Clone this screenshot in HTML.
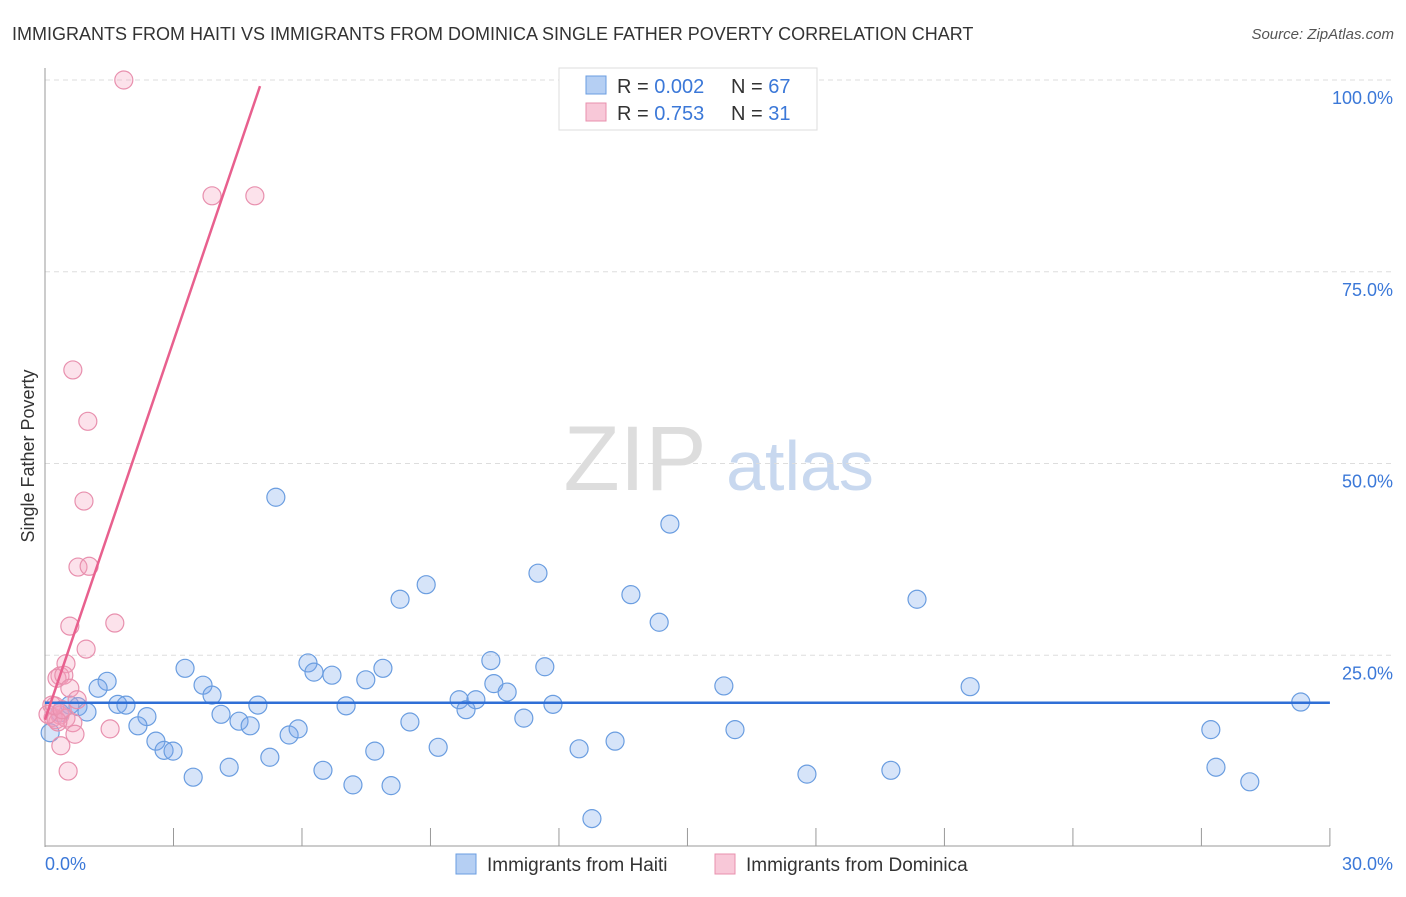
<!DOCTYPE html>
<html><head><meta charset="utf-8"><style>
body{margin:0;background:#fff;font-family:"Liberation Sans",sans-serif;}
svg text{font-family:"Liberation Sans",sans-serif;}
</style></head><body>
<svg id="chart" width="1406" height="892">
<text x="12" y="40" font-size="18" fill="#333">IMMIGRANTS FROM HAITI VS IMMIGRANTS FROM DOMINICA SINGLE FATHER POVERTY CORRELATION CHART</text>
<text x="1394" y="39" font-size="15" fill="#555" font-style="italic" text-anchor="end">Source: ZipAtlas.com</text>
<text x="34" y="456" font-size="18" fill="#333" transform="rotate(-90 34 456)" text-anchor="middle">Single Father Poverty</text>
<g><text x="635" y="490" font-size="92" fill="#ddd" font-family="Liberation Serif" text-anchor="middle">ZIP</text><text x="800" y="490" font-size="70" fill="#c8d8ef" text-anchor="middle">atlas</text></g>
<g id="grid"></g><g id="axes"></g><g id="marks"></g>
<g>
<rect x="559" y="68" width="258" height="62" fill="#fff" stroke="#ddd"/>
<rect x="586" y="76" width="20" height="18" fill="#b5cff3" stroke="#6a9de0"/>
<rect x="586" y="103" width="20" height="18" fill="#f8c8d8" stroke="#e890ae"/>
<text x="617" y="93" font-size="20" fill="#333">R = <tspan fill="#3b78d8">0.002</tspan></text><text x="731" y="93" font-size="20" fill="#333">N = <tspan fill="#3b78d8">67</tspan></text>
<text x="617" y="120" font-size="20" fill="#333">R = <tspan fill="#3b78d8"> 0.753</tspan></text><text x="731" y="120" font-size="20" fill="#333">N = <tspan fill="#3b78d8"> 31</tspan></text>
</g>
<g>
<rect x="456" y="854" width="20" height="20" fill="#b5cff3" stroke="#6a9de0"/>
<text x="487" y="871" font-size="19" fill="#333">Immigrants from Haiti</text>
<rect x="715" y="854" width="20" height="20" fill="#f8c8d8" stroke="#e890ae"/>
<text x="746" y="871" font-size="19" fill="#333">Immigrants from Dominica</text>
</g>
</svg>
<script>
const haitiX=[1.45,1.24,0.58,0.77,0.98,1.70,1.89,2.38,2.17,2.59,2.78,2.99,3.27,3.69,3.90,4.11,4.30,3.46,4.53,4.79,4.97,5.25,5.39,5.70,5.91,6.14,6.28,6.70,7.03,6.49,7.19,7.49,7.70,7.89,8.08,8.29,8.52,8.90,9.18,9.67,9.83,10.06,10.41,10.48,10.79,11.18,11.51,11.67,11.86,12.47,12.77,13.31,13.68,14.34,14.59,15.85,16.11,17.79,19.75,20.36,21.60,27.22,27.34,28.13,29.32,0.12,0.35];
const haitiY=[21.6,20.7,18.5,18.3,17.6,18.6,18.5,17.0,15.8,13.8,12.6,12.5,23.3,21.1,19.8,17.3,10.4,9.1,16.4,15.8,18.5,11.7,45.6,14.6,15.4,24.0,22.8,22.4,18.4,10.0,8.1,21.8,12.5,23.3,8.0,32.3,16.3,34.2,13.0,19.2,17.9,19.2,24.3,21.3,20.2,16.8,35.7,23.5,18.6,12.8,3.7,13.8,32.9,29.3,42.1,21.0,15.3,9.5,10.0,32.3,20.9,15.3,10.4,8.5,18.9,14.9,17.5];
const domX=[1.84,3.90,4.90,0.65,1.00,0.91,0.77,1.03,0.58,1.63,0.96,0.49,0.35,0.28,0.44,0.58,0.75,0.35,0.19,0.26,0.49,0.65,0.30,1.52,0.70,0.37,0.54,0.16,0.07,0.23,0.40];
const domY=[100,84.9,84.9,62.2,55.5,45.1,36.5,36.6,28.8,29.2,25.8,23.9,22.3,22.0,22.4,20.7,19.2,17.2,16.9,16.6,16.8,16.2,16.3,15.4,14.7,13.2,9.9,18.5,17.3,18.4,17.9];
const haitiTrend=[0,18.8,30,18.8];
const domTrend=[0,16.6,5.02,99.2];
const yTicks=[25,50,75,100];
const yTickLabels=["25.0%","50.0%","75.0%","100.0%"];
const xTicks=[3,6,9,12,15,18,21,24,27,30];
const NS="http://www.w3.org/2000/svg";
const sx=v=>45+v*42.83, sy=v=>847-v*7.67;
function mk(p,t,a){const e=document.createElementNS(NS,t);for(const k in a)e.setAttribute(k,a[k]);document.getElementById(p).appendChild(e);return e;}
yTicks.forEach((t,i)=>{
 const l=mk('grid','line',{x1:45,x2:1395,y1:sy(t),y2:sy(t),stroke:'#ddd','stroke-dasharray':'5,4'});
 
 
 const tx=mk('axes','text',{x:1393,y:sy(t)+24,'font-size':18,fill:'#3b78d8','text-anchor':'end'});
 tx.textContent=yTickLabels[i];
 
 
});
const ya=mk('axes','line',{x1:45,x2:45,y1:68,y2:847,stroke:'#999'});


const xa=mk('axes','line',{x1:45,x2:1330,y1:846,y2:846,stroke:'#999'});


xTicks.forEach(t=>{
 const l=mk('axes','line',{x1:sx(t),x2:sx(t),y1:828,y2:846,stroke:'#999'});
 
 
});
const x0=mk('axes','text',{x:45,y:870,'font-size':18,fill:'#3b78d8'});x0.textContent='0.0%';


const x1=mk('axes','text',{x:1393,y:870,'font-size':18,fill:'#3b78d8','text-anchor':'end'});x1.textContent='30.0%';


haitiX.forEach((x,i)=>{
 const c=mk('marks','circle',{cx:sx(x),cy:sy(haitiY[i]),r:9,fill:'rgba(120,165,235,0.3)',stroke:'#6a9de0','stroke-width':1.2});
 
 
});
domX.forEach((x,i)=>{
 const c=mk('marks','circle',{cx:sx(x),cy:sy(domY[i]),r:9,fill:'rgba(245,160,190,0.3)',stroke:'#e890ae','stroke-width':1.2});
 
 
});
const t1=mk('marks','line',{x1:sx(haitiTrend[0]),y1:sy(haitiTrend[1]),x2:sx(haitiTrend[2]),y2:sy(haitiTrend[3]),stroke:'#2f6fd6','stroke-width':2.5});


const t2=mk('marks','line',{x1:sx(domTrend[0]),y1:sy(domTrend[1]),x2:sx(domTrend[2]),y2:sy(domTrend[3]),stroke:'#e8608e','stroke-width':2.5});


</script>
</body></html>
